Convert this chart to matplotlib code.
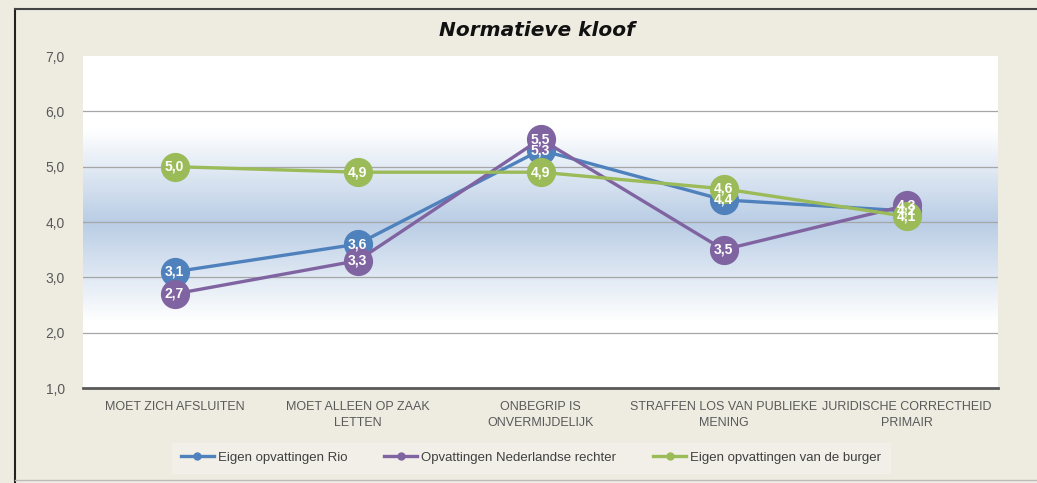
import matplotlib
matplotlib.use("Agg")
import matplotlib.pyplot as plt
import numpy as np
from matplotlib.colors import LinearSegmentedColormap
from matplotlib.lines import Line2D

categories = ["MOET ZICH AFSLUITEN", "MOET ALLEEN OP ZAAK\nLETTEN", "ONBEGRIP IS\nONVERMIJDELIJK",
              "STRAFFEN LOS VAN PUBLIEKE\nMENING", "JURIDISCHE CORRECTHEID\nPRIMAIR"]
rio = [3.1, 3.6, 5.3, 4.4, 4.2]
rechter = [2.7, 3.3, 5.5, 3.5, 4.3]
burger = [5.0, 4.9, 4.9, 4.6, 4.1]
series_names = ["Eigen opvattingen Rio", "Opvattingen Nederlandse rechter", "Eigen opvattingen van de burger"]
yticks = [1, 2, 3, 4, 5, 6, 7]

colors = ["#4F81BD", "#8064A2", "#9BBB59"]
bg = "#EEECE1"
narrow = ["Liberation Sans", "DejaVu Sans"]

fig = plt.figure(figsize=(10.37, 4.83), dpi=100, facecolor=bg)
ax = fig.add_axes([83/1037, 1-388/483, 915/1037, 332/483])

# gradient background
cmap = LinearSegmentedColormap.from_list("bandg", [
    (0.0, "#FFFFFF"), (0.20, "#FFFFFF"), (0.50, "#B9CDE5"), (0.78, "#FFFFFF"), (1.0, "#FFFFFF")])
grad = np.linspace(0, 1, 256).reshape(-1, 1)
ax.imshow(grad, extent=[-0.5, 4.5, 1, 7], aspect="auto", cmap=cmap, origin="lower", zorder=0)

ax.set_xlim(-0.5, 4.5)
ax.set_ylim(1, 7)
for y in yticks[1:-1]:
    ax.axhline(y, color="#A6A6A6", lw=0.9, zorder=1)

x = np.arange(len(categories))
series = [rio, rechter, burger]
for i, (vals, c, name) in enumerate(zip(series, colors, series_names)):
    ax.plot(x, vals, color=c, lw=2.4, marker="o", markersize=20, zorder=3 + i, label=name,
            solid_capstyle="round")
for vals in series:
    for xi, v in zip(x, vals):
        ax.text(xi, v, f"{v:.1f}".replace(".", ","), color="white", fontsize=10, fontweight="bold",
                ha="center", va="center", zorder=10, family=narrow)

for s in ["top", "right", "left"]:
    ax.spines[s].set_visible(False)
ax.spines["bottom"].set_color("#595959")
ax.spines["bottom"].set_linewidth(2)
ax.spines["bottom"].set_zorder(12)

ax.set_yticks(yticks)
ax.set_yticklabels([f"{v:.1f}".replace(".", ",") for v in yticks], color="#595959", fontsize=10,
                   family=narrow)
ax.set_xticks(x)
ax.set_xticklabels(categories, color="#595959", fontsize=9, family=narrow, linespacing=1.5)
ax.tick_params(length=0, pad=9)
ax.tick_params(axis="y", pad=13)

fig.text(0.518, 0.937, "Normatieve kloof", fontsize=14.5, fontweight="bold", style="italic",
         ha="center", va="center", color="#111111")

handles = [Line2D([0], [0], color=c, lw=2.4, marker="o", markersize=5) for c in colors]
leg = fig.legend(handles, series_names, loc="center", bbox_to_anchor=(0.512, 0.052), ncol=3,
                 frameon=True, prop={"family": narrow, "size": 9.5},
                 handlelength=2.5, handletextpad=0.3, columnspacing=2.8, borderpad=0.7, fancybox=False)
leg.get_frame().set_facecolor("#F3F1EB")
leg.get_frame().set_edgecolor("#F3F1EB")
for t in leg.get_texts():
    t.set_color("#404040")

# outer border lines
fig.add_artist(Line2D([15/1037, 15/1037], [0, 1-9/483], transform=fig.transFigure, color="#222222", lw=1.5))
fig.add_artist(Line2D([15/1037, 1], [1-9/483, 1-9/483], transform=fig.transFigure, color="#444444", lw=1.5))
fig.add_artist(Line2D([15/1037, 1], [3/483, 3/483], transform=fig.transFigure, color="#BBBBBB", lw=1))

fig.savefig("out.png", dpi=100, facecolor=bg)
